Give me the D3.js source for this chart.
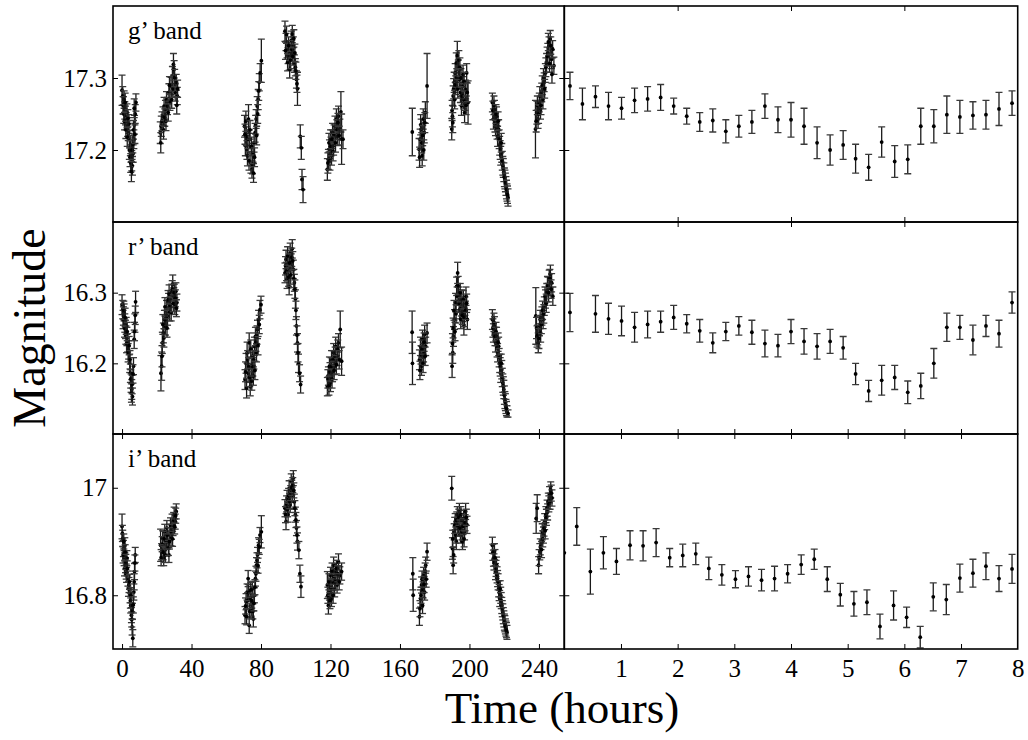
<!DOCTYPE html>
<html>
<head>
<meta charset="utf-8">
<script src="https://cdn.jsdelivr.net/npm/d3@7/dist/d3.min.js"></script>
<style>
body { margin: 0; background: #fff; }
svg text { font-family: "Liberation Serif", "Times New Roman", serif; fill: #000; }
.axis path.domain { display: none; }
.axis line { stroke: #000; stroke-width: 1; }
</style>
</head>
<body>
<div id="chart"></div>
<script>
// ---- data: [time, magnitude, error] ----
var bandLabels = ["g\u2019 band", "r\u2019 band", "i\u2019 band"];
var leftTicks = [0, 40, 80, 120, 160, 200, 240];
var rightTicks = [1, 2, 3, 4, 5, 6, 7, 8];
var gTicks = [17.2, 17.3], gTickLabels = ["17.2", "17.3"];
var rTicks = [16.2, 16.3], rTickLabels = ["16.2", "16.3"];
var iTicks = [16.8, 17.0], iTickLabels = ["16.8", "17"];

// full light curves (left panels)
var gLong = [
  [0.0,17.283,0.021],[0.4,17.275,0.013],[0.8,17.262,0.012],[1.2,17.270,0.012],[1.6,17.255,0.012],[2.0,17.248,0.013],[2.4,17.240,0.012],
  [2.8,17.252,0.012],[3.2,17.232,0.013],[3.6,17.225,0.012],[4.0,17.236,0.013],[4.4,17.215,0.012],[4.8,17.205,0.013],[5.2,17.195,0.012],
  [5.6,17.185,0.014],[6.0,17.178,0.013],[6.4,17.195,0.012],[6.8,17.215,0.013],[7.2,17.235,0.013],[7.6,17.250,0.013],[8.0,17.266,0.012],
  [0.6,17.262,0.012],[1.0,17.250,0.013],[1.4,17.240,0.012],[1.8,17.266,0.013],[2.2,17.228,0.012],[3.0,17.218,0.013],[3.4,17.244,0.012],
  [4.2,17.200,0.013],[4.6,17.190,0.013],[5.0,17.182,0.013],[5.4,17.170,0.014],[5.8,17.200,0.013],[6.2,17.208,0.012],[6.6,17.228,0.013],
  [7.0,17.258,0.013],[7.4,17.222,0.013],
  [22.0,17.224,0.015],[22.6,17.233,0.014],[23.6,17.247,0.013],[24.2,17.261,0.012],[25.0,17.256,0.013],[25.6,17.270,0.011],[26.2,17.261,0.012],
  [27.0,17.280,0.012],[27.6,17.266,0.011],[28.2,17.289,0.012],[29.0,17.303,0.013],[29.6,17.319,0.015],[30.0,17.312,0.012],[30.6,17.280,0.012],
  [31.2,17.294,0.011],[31.8,17.275,0.012],
  [22.3,17.210,0.014],[23.0,17.240,0.013],[23.9,17.228,0.013],[24.6,17.245,0.012],[25.3,17.240,0.013],[26.6,17.252,0.012],[27.3,17.290,0.012],
  [28.6,17.270,0.012],[29.3,17.285,0.012],[30.3,17.300,0.012],[31.5,17.262,0.012],[32.0,17.285,0.012],
  [70.5,17.233,0.015],[71.0,17.206,0.014],[71.6,17.219,0.013],[72.2,17.192,0.014],[72.8,17.243,0.020],[73.4,17.215,0.013],[74.2,17.182,0.014],
  [74.8,17.173,0.012],[75.4,17.196,0.013],[76.0,17.210,0.013],[76.6,17.224,0.013],[77.2,17.243,0.013],[77.8,17.261,0.013],[78.4,17.270,0.014],
  [79.0,17.294,0.012],[79.5,17.307,0.013],[80.2,17.324,0.030],
  [70.8,17.222,0.014],[71.3,17.240,0.014],[71.9,17.200,0.013],[72.5,17.215,0.013],[73.1,17.185,0.013],[73.7,17.228,0.013],[74.5,17.205,0.013],
  [75.1,17.180,0.013],[75.7,17.168,0.013],[76.3,17.190,0.013],[76.9,17.235,0.013],[77.5,17.220,0.013],[78.1,17.250,0.013],[78.7,17.282,0.013],
  [93.8,17.365,0.014],[94.4,17.350,0.012],[95.0,17.340,0.012],[95.6,17.331,0.011],[96.2,17.323,0.012],[96.8,17.335,0.012],[97.4,17.352,0.013],
  [98.0,17.361,0.012],[98.6,17.345,0.012],[99.2,17.320,0.012],[99.8,17.315,0.012],[100.4,17.298,0.012],[101.0,17.285,0.023],
  [94.1,17.338,0.012],[94.7,17.360,0.012],[95.3,17.322,0.012],[95.9,17.345,0.012],[96.5,17.312,0.012],[97.1,17.325,0.012],[97.7,17.340,0.012],
  [98.3,17.330,0.012],[98.9,17.355,0.012],[99.5,17.335,0.012],[100.1,17.310,0.012],[100.7,17.292,0.012],
  [102.6,17.219,0.016],[103.2,17.203,0.016],[103.6,17.159,0.014],[104.2,17.145,0.018],
  [118.2,17.173,0.015],[118.8,17.187,0.014],[119.4,17.201,0.013],[120.0,17.215,0.013],[120.6,17.192,0.013],[121.2,17.224,0.013],[121.8,17.206,0.013],
  [122.6,17.233,0.014],[123.4,17.243,0.014],[124.0,17.219,0.013],[124.6,17.247,0.014],[125.4,17.229,0.014],[126.0,17.253,0.028],[126.4,17.215,0.035],
  [127.2,17.215,0.013],
  [118.5,17.182,0.014],[119.1,17.210,0.013],[119.7,17.185,0.013],[120.3,17.205,0.013],[120.9,17.215,0.013],[121.5,17.198,0.013],[122.1,17.222,0.013],
  [122.9,17.210,0.013],[123.7,17.228,0.014],[124.3,17.238,0.013],[125.0,17.220,0.013],
  [167.1,17.225,0.033],
  [171.0,17.201,0.015],[171.6,17.215,0.014],[172.2,17.229,0.014],[172.8,17.192,0.014],[173.4,17.243,0.014],[174.0,17.224,0.014],[174.6,17.252,0.015],
  [175.6,17.289,0.045],
  [171.3,17.190,0.014],[171.9,17.235,0.014],[172.5,17.210,0.014],[173.1,17.220,0.014],[173.7,17.200,0.014],[174.3,17.238,0.014],
  [189.8,17.229,0.015],[190.2,17.247,0.015],[190.6,17.275,0.014],[191.2,17.294,0.014],[191.8,17.307,0.013],[192.4,17.321,0.014],[193.0,17.331,0.020],
  [193.6,17.312,0.013],[194.2,17.298,0.013],[194.8,17.280,0.014],[195.4,17.261,0.013],[196.0,17.289,0.013],[196.6,17.270,0.013],[197.2,17.252,0.014],
  [197.8,17.284,0.013],[198.4,17.307,0.013],[199.2,17.266,0.030],
  [190.0,17.255,0.014],[190.4,17.238,0.014],[190.9,17.285,0.014],[191.5,17.270,0.013],[192.1,17.290,0.013],[192.7,17.300,0.013],[193.3,17.285,0.013],
  [193.9,17.325,0.013],[194.5,17.315,0.013],[195.1,17.300,0.013],[195.7,17.275,0.013],[196.3,17.305,0.013],[196.9,17.295,0.013],[197.5,17.268,0.013],
  [198.1,17.262,0.013],[198.7,17.280,0.013],
  [213.2,17.266,0.013],[213.8,17.243,0.014],[214.4,17.256,0.013],[215.0,17.233,0.013],[215.6,17.247,0.013],[216.2,17.219,0.014],[216.8,17.229,0.013],
  [217.4,17.206,0.013],[218.0,17.192,0.013],[218.6,17.196,0.013],[219.2,17.178,0.013],[219.8,17.169,0.013],[220.4,17.159,0.013],[221.0,17.150,0.013],
  [221.6,17.141,0.012],[222.2,17.134,0.012],
  [213.5,17.255,0.013],[214.1,17.262,0.013],[214.7,17.238,0.013],[215.3,17.250,0.013],[215.9,17.228,0.013],[216.5,17.240,0.013],[217.1,17.215,0.013],
  [217.7,17.200,0.013],[218.3,17.210,0.013],[218.9,17.185,0.013],[219.5,17.175,0.013],[220.1,17.162,0.013],[220.7,17.155,0.013],[221.3,17.145,0.013],
  [221.9,17.138,0.012],
  [238.0,17.229,0.040],[238.8,17.252,0.016],[239.5,17.243,0.013],[240.2,17.266,0.013],[240.9,17.256,0.013],[241.6,17.280,0.013],[242.3,17.270,0.013],
  [243.0,17.294,0.013],[243.7,17.307,0.013],[244.4,17.321,0.013],[245.1,17.335,0.013],[245.8,17.344,0.013],[246.5,17.354,0.012],[247.2,17.326,0.013],
  [247.9,17.340,0.012],[248.6,17.317,0.012],
  [238.4,17.240,0.015],[239.1,17.262,0.013],[239.8,17.250,0.013],[240.5,17.275,0.013],[241.2,17.262,0.013],[241.9,17.290,0.013],[242.6,17.300,0.013],
  [243.3,17.285,0.013],[244.0,17.315,0.013],[244.7,17.330,0.013],[245.4,17.350,0.012],[246.1,17.320,0.012],[246.8,17.345,0.012],[247.5,17.305,0.012]
];

var rLong = [
  [0.0,16.283,0.014],[0.4,16.276,0.013],[0.8,16.267,0.013],[1.2,16.272,0.012],[1.6,16.257,0.013],[2.0,16.248,0.013],[2.4,16.253,0.012],
  [2.8,16.238,0.013],[3.2,16.229,0.013],[3.8,16.219,0.013],[4.4,16.200,0.013],[4.8,16.186,0.013],[5.2,16.172,0.013],[5.6,16.163,0.014],
  [6.0,16.153,0.012],[6.6,16.196,0.012],[7.0,16.234,0.013],[7.4,16.257,0.013],[7.8,16.287,0.015],
  [0.6,16.262,0.013],[1.0,16.275,0.013],[1.4,16.250,0.013],[1.8,16.265,0.013],[2.2,16.240,0.013],[2.6,16.228,0.013],[3.0,16.245,0.013],
  [3.5,16.215,0.013],[4.1,16.225,0.013],[4.6,16.205,0.013],[5.0,16.178,0.013],[5.4,16.158,0.013],[5.8,16.170,0.013],[6.3,16.185,0.013],
  [7.2,16.245,0.013],[7.6,16.268,0.013],
  [22.4,16.186,0.025],[22.8,16.196,0.020],[23.2,16.229,0.015],[23.8,16.243,0.014],[24.4,16.262,0.013],[25.0,16.253,0.013],[25.6,16.276,0.013],
  [26.2,16.267,0.013],[26.8,16.286,0.013],[27.4,16.272,0.012],[28.0,16.291,0.012],[28.6,16.300,0.012],[29.2,16.312,0.013],[29.8,16.295,0.012],
  [30.4,16.281,0.012],[31.0,16.302,0.012],[31.6,16.286,0.012],
  [23.0,16.210,0.015],[23.5,16.255,0.014],[24.1,16.236,0.013],[24.7,16.280,0.013],[25.3,16.262,0.013],[25.9,16.250,0.013],[26.5,16.290,0.013],
  [27.1,16.298,0.013],[27.7,16.282,0.012],[28.3,16.272,0.012],[28.9,16.305,0.012],[29.5,16.285,0.012],[30.1,16.300,0.012],[30.7,16.292,0.012],
  [31.3,16.278,0.012],
  [70.8,16.177,0.014],[71.4,16.200,0.014],[72.0,16.215,0.015],[72.6,16.186,0.013],[73.2,16.229,0.014],[73.8,16.167,0.013],[74.4,16.196,0.013],
  [75.0,16.210,0.013],[75.6,16.182,0.013],[76.2,16.224,0.013],[76.8,16.238,0.013],[77.4,16.215,0.013],[78.0,16.248,0.013],[78.6,16.262,0.013],
  [79.4,16.276,0.013],[80.0,16.283,0.012],
  [71.1,16.188,0.014],[71.7,16.165,0.014],[72.3,16.205,0.013],[72.9,16.195,0.013],[73.5,16.180,0.013],[74.1,16.220,0.013],[74.7,16.175,0.013],
  [75.3,16.195,0.013],[75.9,16.205,0.013],[76.5,16.190,0.013],[77.1,16.230,0.013],[77.7,16.240,0.013],[78.3,16.225,0.013],[79.0,16.255,0.013],
  [93.8,16.328,0.014],[94.4,16.347,0.013],[95.0,16.319,0.013],[95.6,16.338,0.012],[96.2,16.309,0.012],[96.8,16.357,0.013],[97.4,16.343,0.012],
  [98.0,16.362,0.013],[98.6,16.333,0.013],[99.2,16.314,0.012],[99.8,16.291,0.013],[100.4,16.253,0.013],[101.0,16.229,0.013],[101.6,16.200,0.013],
  [102.2,16.186,0.012],[102.8,16.170,0.012],
  [94.1,16.338,0.013],[94.7,16.330,0.013],[95.3,16.352,0.013],[95.9,16.322,0.013],[96.5,16.342,0.013],[97.1,16.325,0.013],[97.7,16.350,0.013],
  [98.3,16.345,0.013],[98.9,16.320,0.013],[99.5,16.305,0.013],[100.1,16.275,0.013],[100.7,16.240,0.013],[101.3,16.215,0.013],
  [118.2,16.167,0.013],[118.8,16.182,0.013],[119.4,16.196,0.013],[120.0,16.172,0.012],[120.6,16.205,0.013],[121.2,16.186,0.012],[121.8,16.215,0.013],
  [122.4,16.196,0.012],[123.0,16.224,0.013],[123.8,16.210,0.013],[124.6,16.229,0.013],[125.6,16.248,0.026],[126.4,16.203,0.020],
  [118.5,16.178,0.013],[119.1,16.168,0.013],[119.7,16.188,0.013],[120.3,16.195,0.013],[120.9,16.178,0.013],[121.5,16.205,0.013],[122.1,16.190,0.013],
  [122.7,16.210,0.013],[123.4,16.198,0.013],[124.2,16.220,0.013],[125.0,16.205,0.013],
  [167.0,16.244,0.030],[167.2,16.200,0.030],
  [171.2,16.205,0.014],[171.8,16.224,0.013],[172.4,16.196,0.013],[173.0,16.234,0.013],[173.6,16.215,0.013],[174.2,16.241,0.013],[174.8,16.224,0.013],
  [175.6,16.243,0.014],
  [171.5,16.190,0.013],[172.1,16.212,0.013],[172.7,16.220,0.013],[173.3,16.200,0.013],[173.9,16.230,0.013],[174.5,16.210,0.013],
  [190.0,16.196,0.016],[190.4,16.215,0.015],[190.8,16.238,0.014],[191.4,16.262,0.014],[192.0,16.286,0.013],[192.6,16.309,0.013],[193.2,16.328,0.015],
  [193.8,16.295,0.013],[194.4,16.276,0.013],[195.0,16.262,0.013],[195.6,16.291,0.013],[196.2,16.272,0.013],[196.8,16.253,0.013],[197.4,16.281,0.013],
  [198.0,16.295,0.013],[198.8,16.262,0.014],
  [190.2,16.228,0.014],[190.6,16.250,0.014],[191.1,16.275,0.014],[191.7,16.245,0.013],[192.3,16.270,0.013],[192.9,16.295,0.013],[193.5,16.310,0.013],
  [194.1,16.285,0.013],[194.7,16.300,0.013],[195.3,16.280,0.013],[195.9,16.268,0.013],[196.5,16.290,0.013],[197.1,16.265,0.013],[197.7,16.275,0.013],
  [198.4,16.285,0.013],
  [213.2,16.262,0.014],[213.8,16.243,0.013],[214.4,16.253,0.013],[215.0,16.229,0.013],[215.6,16.238,0.013],[216.2,16.215,0.013],[216.8,16.224,0.013],
  [217.4,16.200,0.013],[218.0,16.186,0.013],[218.6,16.191,0.013],[219.2,16.172,0.013],[219.8,16.163,0.013],[220.4,16.148,0.012],[221.0,16.139,0.010],
  [221.6,16.132,0.008],[222.2,16.129,0.005],
  [213.5,16.250,0.013],[214.1,16.258,0.013],[214.7,16.238,0.013],[215.3,16.245,0.013],[215.9,16.222,0.013],[216.5,16.230,0.013],[217.1,16.208,0.013],
  [217.7,16.195,0.013],[218.3,16.200,0.013],[218.9,16.180,0.013],[219.5,16.168,0.013],[220.1,16.155,0.013],[220.7,16.145,0.012],[221.3,16.136,0.010],
  [238.2,16.267,0.040],[238.9,16.238,0.015],[239.6,16.229,0.014],[240.3,16.253,0.014],[241.0,16.243,0.013],[241.7,16.267,0.013],[242.4,16.262,0.013],
  [243.1,16.281,0.013],[243.8,16.291,0.013],[244.5,16.300,0.013],[245.2,16.309,0.013],[245.9,16.319,0.013],[246.6,16.326,0.013],[247.3,16.314,0.013],
  [248.0,16.295,0.013],
  [238.6,16.250,0.015],[239.3,16.240,0.014],[240.0,16.235,0.014],[240.7,16.262,0.013],[241.4,16.255,0.013],[242.1,16.275,0.013],[242.8,16.270,0.013],
  [243.5,16.295,0.013],[244.2,16.285,0.013],[244.9,16.310,0.013],[245.6,16.300,0.013],[246.3,16.320,0.013],[247.0,16.305,0.013]
];

var iLong = [
  [0.0,16.928,0.023],[0.4,16.906,0.015],[0.8,16.887,0.015],[1.2,16.869,0.014],[1.6,16.893,0.014],[2.0,16.856,0.014],[2.4,16.844,0.014],
  [2.8,16.869,0.014],[3.4,16.831,0.014],[4.0,16.819,0.014],[4.6,16.800,0.014],[5.0,16.781,0.014],[5.4,16.763,0.014],[5.8,16.741,0.015],
  [6.2,16.720,0.016],[6.8,16.806,0.015],[7.2,16.844,0.015],[7.6,16.875,0.014],
  [0.2,16.915,0.015],[0.6,16.875,0.015],[1.0,16.900,0.014],[1.4,16.850,0.014],[1.8,16.880,0.014],[2.2,16.862,0.014],[2.6,16.838,0.014],
  [3.0,16.850,0.014],[3.7,16.812,0.014],[4.3,16.825,0.014],[4.8,16.790,0.014],[5.2,16.800,0.014],[5.6,16.755,0.014],[6.0,16.770,0.015],
  [6.5,16.782,0.015],[7.0,16.825,0.015],[7.4,16.860,0.015],
  [22.2,16.893,0.030],[22.8,16.881,0.015],[23.4,16.906,0.014],[24.0,16.869,0.014],[24.6,16.918,0.014],[25.2,16.887,0.014],[25.8,16.925,0.014],
  [26.4,16.900,0.014],[27.0,16.875,0.014],[27.6,16.918,0.014],[28.2,16.906,0.014],[28.8,16.937,0.014],[29.4,16.925,0.014],[30.0,16.950,0.014],
  [30.6,16.937,0.014],[31.2,16.956,0.014],
  [22.5,16.870,0.015],[23.1,16.895,0.014],[23.7,16.880,0.014],[24.3,16.905,0.014],[24.9,16.875,0.014],[25.5,16.900,0.014],[26.1,16.912,0.014],
  [26.7,16.888,0.014],[27.3,16.900,0.014],[27.9,16.930,0.014],[28.5,16.918,0.014],[29.1,16.905,0.014],[29.7,16.940,0.014],[30.3,16.928,0.014],
  [30.9,16.948,0.014],
  [70.8,16.763,0.016],[71.4,16.788,0.015],[72.0,16.806,0.015],[72.6,16.831,0.015],[73.2,16.744,0.015],[73.8,16.794,0.014],[74.4,16.775,0.014],
  [75.0,16.812,0.014],[75.6,16.756,0.015],[76.2,16.800,0.014],[76.8,16.831,0.014],[77.4,16.856,0.014],[78.0,16.875,0.014],[78.6,16.893,0.014],
  [79.4,16.912,0.014],[80.2,16.918,0.030],
  [71.1,16.780,0.015],[71.7,16.760,0.015],[72.3,16.790,0.015],[72.9,16.805,0.015],[73.5,16.770,0.014],[74.1,16.810,0.014],[74.7,16.790,0.014],
  [75.3,16.770,0.014],[75.9,16.785,0.014],[76.5,16.815,0.014],[77.1,16.840,0.014],[77.7,16.865,0.014],[78.3,16.855,0.014],[79.0,16.890,0.014],
  [93.8,16.962,0.016],[94.4,16.937,0.015],[95.0,16.981,0.014],[95.6,16.950,0.014],[96.2,16.999,0.014],[96.8,16.968,0.014],[97.4,17.012,0.014],
  [98.0,16.987,0.014],[98.6,17.018,0.014],[99.2,16.974,0.014],[99.8,16.950,0.014],[100.4,16.925,0.014],[101.0,16.900,0.016],[101.8,16.884,0.016],
  [102.4,16.840,0.016],[103.0,16.816,0.020],
  [94.1,16.950,0.015],[94.7,16.970,0.015],[95.3,16.960,0.014],[95.9,16.985,0.014],[96.5,16.975,0.014],[97.1,16.990,0.014],[97.7,17.000,0.014],
  [98.3,17.005,0.014],[98.9,16.995,0.014],[99.5,16.962,0.014],[100.1,16.940,0.014],[100.7,16.912,0.015],
  [118.2,16.819,0.025],[118.8,16.781,0.016],[119.4,16.806,0.015],[120.0,16.837,0.015],[120.6,16.794,0.015],[121.2,16.825,0.015],[121.8,16.856,0.015],
  [122.4,16.812,0.015],[123.0,16.844,0.015],[123.8,16.819,0.015],[124.6,16.862,0.015],[125.4,16.837,0.016],[126.4,16.844,0.016],
  [118.5,16.800,0.015],[119.1,16.825,0.015],[119.7,16.790,0.015],[120.3,16.815,0.015],[120.9,16.845,0.015],[121.5,16.800,0.015],[122.1,16.835,0.015],
  [122.7,16.825,0.015],[123.4,16.850,0.015],[124.2,16.840,0.015],[125.0,16.825,0.015],
  [167.4,16.840,0.030],[167.6,16.800,0.030],
  [171.2,16.760,0.016],[171.8,16.794,0.016],[172.4,16.819,0.015],[173.0,16.781,0.015],[173.6,16.837,0.015],[174.2,16.806,0.015],[174.8,16.856,0.015],
  [175.6,16.881,0.016],
  [171.5,16.775,0.015],[172.1,16.800,0.015],[172.7,16.830,0.015],[173.3,16.810,0.015],[173.9,16.820,0.015],[174.5,16.845,0.015],[175.1,16.830,0.015],
  [189.8,16.999,0.022],[190.2,16.887,0.020],[190.6,16.856,0.016],[191.2,16.918,0.015],[191.8,16.937,0.015],[192.4,16.900,0.015],[193.0,16.950,0.015],
  [193.6,16.925,0.015],[194.2,16.956,0.015],[194.8,16.912,0.015],[195.4,16.937,0.015],[196.0,16.900,0.015],[196.6,16.943,0.015],[197.2,16.918,0.015],
  [197.8,16.956,0.015],[198.6,16.931,0.016],
  [190.4,16.905,0.016],[190.9,16.875,0.015],[191.5,16.930,0.015],[192.1,16.912,0.015],[192.7,16.940,0.015],[193.3,16.930,0.015],[193.9,16.945,0.015],
  [194.5,16.925,0.015],[195.1,16.950,0.015],[195.7,16.918,0.015],[196.3,16.928,0.015],[196.9,16.905,0.015],[197.5,16.935,0.015],[198.2,16.945,0.015],
  [213.2,16.893,0.015],[213.8,16.869,0.015],[214.4,16.881,0.015],[215.0,16.844,0.015],[215.6,16.856,0.015],[216.2,16.831,0.015],[216.8,16.812,0.015],
  [217.4,16.794,0.015],[218.0,16.800,0.015],[218.6,16.781,0.015],[219.2,16.769,0.015],[219.8,16.756,0.015],[220.4,16.747,0.015],[221.0,16.738,0.014],
  [221.6,16.731,0.013],
  [213.5,16.880,0.015],[214.1,16.862,0.015],[214.7,16.870,0.015],[215.3,16.850,0.015],[215.9,16.838,0.015],[216.5,16.825,0.015],[217.1,16.805,0.015],
  [217.7,16.812,0.015],[218.3,16.790,0.015],[218.9,16.775,0.015],[219.5,16.762,0.015],[220.1,16.750,0.015],[220.7,16.742,0.014],[221.3,16.735,0.014],
  [238.4,16.943,0.028],[239.0,16.962,0.025],[239.8,16.856,0.016],[240.5,16.881,0.015],[241.2,16.900,0.015],[241.9,16.918,0.015],[242.6,16.912,0.015],
  [243.3,16.937,0.015],[244.0,16.950,0.015],[244.7,16.962,0.015],[245.4,16.975,0.015],[246.1,16.987,0.015],[246.8,16.996,0.015],[247.5,16.981,0.015],
  [240.1,16.870,0.015],[240.8,16.890,0.015],[241.5,16.885,0.015],[242.2,16.905,0.015],[242.9,16.925,0.015],[243.6,16.920,0.015],[244.3,16.945,0.015],
  [245.0,16.955,0.015],[245.7,16.970,0.015],[246.4,16.975,0.015],[247.1,16.990,0.015]
];

// first night, zoomed (right panels)
var gShort = [
  [0.10,17.289,0.019],[0.32,17.264,0.022],[0.55,17.274,0.015],[0.78,17.261,0.019],[1.01,17.258,0.015],[1.24,17.269,0.017],[1.47,17.271,0.017],
  [1.70,17.273,0.018],[1.93,17.261,0.011],[2.16,17.247,0.011],[2.39,17.239,0.013],[2.62,17.241,0.016],[2.85,17.226,0.016],[3.08,17.233,0.015],
  [3.31,17.239,0.016],[3.54,17.261,0.017],[3.77,17.242,0.018],[4.00,17.242,0.024],[4.23,17.233,0.025],[4.46,17.210,0.022],[4.69,17.200,0.021],
  [4.92,17.207,0.020],[5.14,17.188,0.020],[5.37,17.176,0.018],[5.60,17.211,0.021],[5.83,17.184,0.022],[6.06,17.187,0.020],[6.29,17.233,0.025],
  [6.52,17.233,0.023],[6.75,17.249,0.026],[6.98,17.246,0.023],[7.21,17.248,0.019],[7.44,17.249,0.020],[7.67,17.257,0.023],[7.90,17.265,0.017]
];
var rShort = [
  [0.10,16.272,0.027],[0.55,16.270,0.026],[0.78,16.263,0.022],[1.01,16.260,0.021],[1.24,16.251,0.021],[1.47,16.255,0.019],[1.70,16.259,0.015],
  [1.93,16.265,0.017],[2.16,16.256,0.013],[2.39,16.246,0.016],[2.62,16.229,0.014],[2.85,16.245,0.013],[3.08,16.253,0.013],[3.31,16.244,0.017],
  [3.54,16.228,0.019],[3.77,16.225,0.016],[4.00,16.245,0.017],[4.23,16.231,0.018],[4.46,16.224,0.018],[4.69,16.231,0.017],[4.92,16.222,0.016],
  [5.14,16.185,0.015],[5.37,16.161,0.015],[5.60,16.176,0.021],[5.83,16.180,0.017],[6.06,16.159,0.016],[6.29,16.168,0.018],[6.52,16.200,0.021],
  [6.75,16.251,0.020],[6.98,16.251,0.017],[7.21,16.233,0.021],[7.44,16.253,0.015],[7.67,16.242,0.019],[7.90,16.286,0.015]
];
var iShort = [
  [0.00,16.879,0.000],[0.22,16.928,0.035],[0.46,16.844,0.042],[0.69,16.879,0.030],[0.92,16.863,0.024],[1.16,16.893,0.027],[1.39,16.892,0.028],
  [1.62,16.898,0.026],[1.86,16.870,0.017],[2.09,16.874,0.021],[2.32,16.877,0.020],[2.55,16.850,0.021],[2.78,16.838,0.019],[3.02,16.830,0.016],
  [3.25,16.835,0.018],[3.48,16.828,0.020],[3.71,16.831,0.023],[3.94,16.840,0.017],[4.18,16.857,0.018],[4.41,16.867,0.019],[4.64,16.830,0.023],
  [4.87,16.801,0.021],[5.11,16.784,0.023],[5.34,16.787,0.023],[5.57,16.742,0.023],[5.81,16.781,0.027],[6.04,16.759,0.019],[6.28,16.722,0.020],
  [6.51,16.797,0.026],[6.74,16.792,0.028],[6.98,16.832,0.026],[7.21,16.841,0.026],[7.44,16.854,0.025],[7.67,16.831,0.024],[7.90,16.849,0.027]
];

// ---- layout ----
var W = 1028, H = 740;
var xLeft = [113, 564.3], xRight = [564.3, 1017.7];
var rowTop = [6, 222, 434], rowBottom = [222, 434, 649];

var svg = d3.select("#chart").append("svg").attr("width", W).attr("height", H);

var leftX = d3.scaleLinear().domain([-5.2, 254.6]).range(xLeft);
var rightX = d3.scaleLinear().domain([0, 8]).range(xRight);

var panels = [
    {long: gLong, short: gShort, domain: [17.1, 17.4], ticks: gTicks, labels: gTickLabels, rightTop: [2, 4, 6], rightBottom: [2, 4, 6], leftTop: [], leftBottom: []},
    {long: rLong, short: rShort, domain: [16.1, 16.4], ticks: rTicks, labels: rTickLabels, rightTop: [2, 4, 6], rightBottom: rightTicks, leftTop: [], leftBottom: leftTicks},
    {long: iLong, short: iShort, domain: [16.7, 17.1], ticks: iTicks, labels: iTickLabels, rightTop: rightTicks, rightBottom: rightTicks, leftTop: leftTicks, leftBottom: leftTicks}
];

function drawErrorPoints(g, data, x, y) {
    var pts = g.selectAll("g.pt").data(data).enter().append("g").attr("class", "pt");
    var withErr = pts.filter(function(d) { return d[2] > 0; });
    withErr.append("line")
        .attr("x1", function(d) { return x(d[0]); })
        .attr("x2", function(d) { return x(d[0]); })
        .attr("y1", function(d) { return y(d[1] - d[2]); })
        .attr("y2", function(d) { return y(d[1] + d[2]); })
        .attr("stroke", "#1a1a1a").attr("stroke-width", 1.3);
    [-1, 1].forEach(function(s) {
        withErr.append("line")
            .attr("x1", function(d) { return x(d[0]) - 3.5; })
            .attr("x2", function(d) { return x(d[0]) + 3.5; })
            .attr("y1", function(d) { return y(d[1] + s * d[2]); })
            .attr("y2", function(d) { return y(d[1] + s * d[2]); })
            .attr("stroke", "#3a3a3a").attr("stroke-width", 1.3);
    });
    pts.append("circle")
        .attr("cx", function(d) { return x(d[0]); })
        .attr("cy", function(d) { return y(d[1]); })
        .attr("r", 1.9)
        .attr("fill", "#000");
}

panels.forEach(function(p, i) {
    var top = rowTop[i], bottom = rowBottom[i];
    var y = d3.scaleLinear().domain(p.domain).range([bottom, top]);

    [[leftX, p.long, "L"], [rightX, p.short, "R"]].forEach(function(cfg) {
        var x = cfg[0], r = x.range();
        var clipId = "clip-" + i + cfg[2];
        svg.append("clipPath").attr("id", clipId).append("rect")
            .attr("x", r[0]).attr("y", top).attr("width", r[1] - r[0]).attr("height", bottom - top);
        var g = svg.append("g").attr("clip-path", "url(#" + clipId + ")");
        drawErrorPoints(g, cfg[1], x, y);
    });

    // y axes with inward ticks
    svg.append("g").attr("class", "axis").attr("transform", "translate(" + xLeft[0] + ",0)")
        .call(d3.axisLeft(y).tickValues(p.ticks).tickSize(-5).tickPadding(6)
            .tickFormat(function(d, k) { return p.labels[k]; }));
    svg.append("g").attr("class", "axis").attr("transform", "translate(" + xLeft[1] + ",0)")
        .call(d3.axisRight(y).tickValues(p.ticks).tickSize(-5).tickFormat(""));
    svg.append("g").attr("class", "axis").attr("transform", "translate(" + xRight[0] + ",0)")
        .call(d3.axisLeft(y).tickValues(p.ticks).tickSize(-5).tickFormat(""));

    // x ticks (inward)
    svg.append("g").attr("class", "axis").attr("transform", "translate(0," + bottom + ")")
        .call(d3.axisBottom(leftX).tickValues(p.leftBottom).tickSize(-5).tickFormat(""));
    svg.append("g").attr("class", "axis").attr("transform", "translate(0," + top + ")")
        .call(d3.axisTop(leftX).tickValues(p.leftTop).tickSize(-5).tickFormat(""));
    svg.append("g").attr("class", "axis").attr("transform", "translate(0," + bottom + ")")
        .call(d3.axisBottom(rightX).tickValues(p.rightBottom.filter(function(v) { return v < 8; })).tickSize(-5).tickFormat(""));
    svg.append("g").attr("class", "axis").attr("transform", "translate(0," + top + ")")
        .call(d3.axisTop(rightX).tickValues(p.rightTop.filter(function(v) { return v < 8; })).tickSize(-5).tickFormat(""));

    // frames
    svg.append("rect").attr("x", xLeft[0]).attr("y", top)
        .attr("width", xLeft[1] - xLeft[0]).attr("height", bottom - top)
        .attr("fill", "none").attr("stroke", "#000").attr("stroke-width", 1.6);
    svg.append("rect").attr("x", xRight[0]).attr("y", top)
        .attr("width", xRight[1] - xRight[0]).attr("height", bottom - top)
        .attr("fill", "none").attr("stroke", "#000").attr("stroke-width", 1.6);

    svg.append("text").attr("x", 128).attr("y", top + 33)
        .style("font-size", "25px").text(bandLabels[i]);
});

// x tick labels under the bottom row
var lastBottom = rowBottom[2];
svg.append("g").attr("class", "axis").attr("transform", "translate(0," + lastBottom + ")")
    .call(d3.axisBottom(leftX).tickValues(leftTicks).tickSize(0).tickPadding(10));
svg.append("g").attr("class", "axis").attr("transform", "translate(0," + lastBottom + ")")
    .call(d3.axisBottom(rightX).tickValues(rightTicks).tickSize(0).tickPadding(10));
svg.selectAll(".axis text").style("font-size", "25px").style("font-family", "'Liberation Serif', serif");

svg.append("text").attr("transform", "translate(45,328) rotate(-90)")
    .attr("text-anchor", "middle").style("font-size", "46px").text("Magnitude");
svg.append("text").attr("x", 562).attr("y", 723)
    .attr("text-anchor", "middle").style("font-size", "45px").text("Time (hours)");
</script>
</body>
</html>
